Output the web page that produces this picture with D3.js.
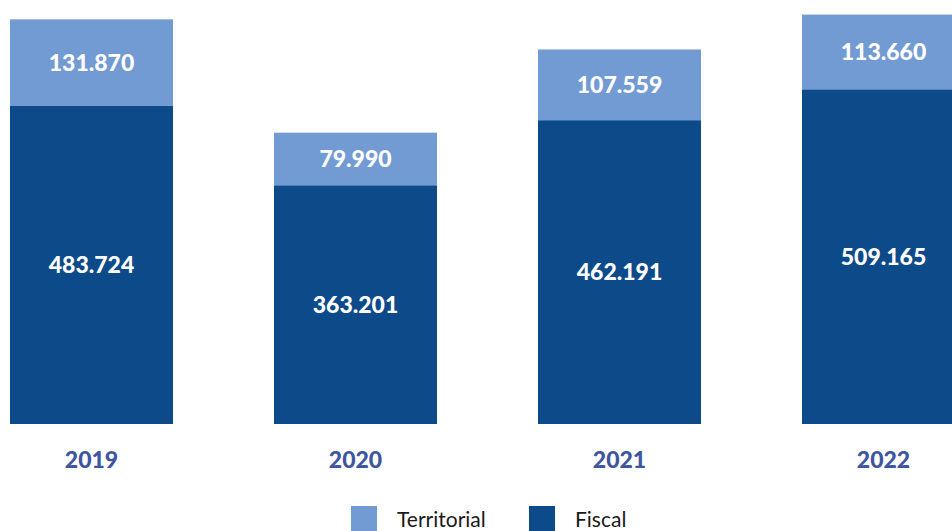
<!DOCTYPE html>
<meta charset="utf-8">
<style>
body { margin: 0; background: white; }
</style>
<body>
<script src="https://d3js.org/d3.v7.min.js"></script>
<script>

// Size of the chart
const width = 952
const height = 531

// Chart data
const years = ['2019', '2020', '2021', '2022']
const fiscal = [483724, 363201, 462191, 509165]
const territorial = [131870, 79990, 107559, 113660]
const seriesNames = ['Territorial', 'Fiscal']

const colors = { Territorial: '#739bd3', Fiscal: '#0c4a89' }

// Number format with a dot as thousands separator
const fmt = d3.formatLocale({ decimal: ',', thousands: '.', grouping: [3], currency: ['', ''] }).format(',d')

const rows = years.map((y, i) => ({ year: y, Fiscal: fiscal[i], Territorial: territorial[i] }))
const stacked = d3.stack().keys(['Fiscal', 'Territorial'])(rows)

// Bars are 163px wide on a 264px step; the last one runs past the edge
const x = d3.scaleBand()
  .domain(years)
  .range([10, 10 + 264 * 3 + 163])
  .paddingInner(101 / 264)
  .paddingOuter(0)

const y = d3.scaleLinear()
  .domain([0, 645000])
  .range([424, 0])

const svg = d3.select('body')
  .append('svg')
  .attr('width', width)
  .attr('height', height)

// Bars
const layers = svg.selectAll('g.layer')
  .data(stacked)
  .enter()
  .append('g')
  .attr('class', 'layer')
  .attr('fill', d => colors[d.key])

layers.selectAll('rect')
  .data(d => d)
  .enter()
  .append('rect')
  .attr('x', d => x(d.data.year))
  .attr('y', d => y(d[1]))
  .attr('width', x.bandwidth())
  .attr('height', d => y(d[0]) - y(d[1]))

// Value labels inside the segments
layers.selectAll('text')
  .data(d => d.map(v => ({ v, key: d.key })))
  .enter()
  .append('text')
  .attr('x', d => x(d.v.data.year) + x.bandwidth() / 2)
  .attr('y', d => (y(d.v[0]) + y(d.v[1])) / 2 + 2)
  .attr('text-anchor', 'middle')
  .attr('dominant-baseline', 'middle')
  .attr('fill', 'white')
  .attr('font-family', 'Lato')
  .attr('font-weight', 900)
  .attr('font-size', 23)
  .text(d => fmt(d.v.data[d.key]))

// Year labels
svg.selectAll('text.year')
  .data(years)
  .enter()
  .append('text')
  .attr('class', 'year')
  .attr('x', d => x(d) + x.bandwidth() / 2)
  .attr('y', 468)
  .attr('text-anchor', 'middle')
  .attr('fill', '#3e56a0')
  .attr('font-family', 'Lato')
  .attr('font-weight', 900)
  .attr('font-size', 23)
  .text(d => d)

// Legend
const legendX = [351, 529]
const legend = svg.selectAll('g.legend')
  .data(seriesNames)
  .enter()
  .append('g')
  .attr('class', 'legend')
  .attr('transform', (d, i) => `translate(${legendX[i]}, 506)`)

legend.append('rect')
  .attr('width', 26)
  .attr('height', 25)
  .attr('fill', d => colors[d])

legend.append('text')
  .attr('x', 46)
  .attr('y', 21)
  .attr('fill', '#1a1a1a')
  .attr('font-family', 'Lato')
  .attr('font-size', 21)
  .text(d => d)

</script>
</body>
</html>
